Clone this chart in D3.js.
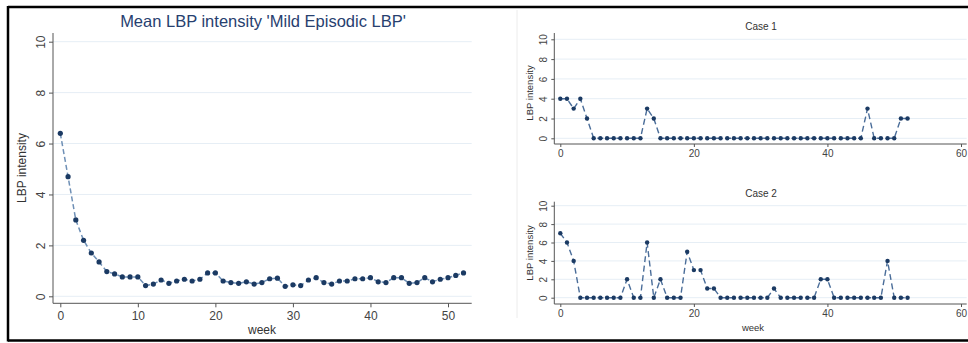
<!DOCTYPE html>
<html>
<head>
<meta charset="utf-8">
<script src="https://cdn.jsdelivr.net/npm/d3@7"></script>
<style>
  html, body { margin: 0; padding: 0; background: #fff; }
  svg { display: block; font-family: "Liberation Sans", Arial, sans-serif; }
</style>
</head>
<body>
<svg id="chart" width="968" height="343"></svg>
<script>
// ---- data ----
const meanTitle = "Mean LBP intensity 'Mild Episodic LBP'";
const case1Title = "Case 1";
const case2Title = "Case 2";
const yTitle = "LBP intensity";
const xTitle = "week";

const meanIntensity = [6.4, 4.7, 3.0, 2.2, 1.7, 1.35, 0.97, 0.88, 0.76, 0.76,
  0.76, 0.42, 0.48, 0.64, 0.51, 0.60, 0.67, 0.60, 0.67, 0.92,
  0.92, 0.60, 0.54, 0.51, 0.57, 0.48, 0.54, 0.69, 0.71, 0.39,
  0.45, 0.42, 0.64, 0.73, 0.54, 0.48, 0.60, 0.60, 0.69, 0.69,
  0.73, 0.57, 0.54, 0.73, 0.73, 0.51, 0.54, 0.73, 0.57, 0.67,
  0.73, 0.82, 0.92];

const case1 = [4, 4, 3, 4, 2, 0, 0, 0, 0, 0,
  0, 0, 0, 3, 2, 0, 0, 0, 0, 0,
  0, 0, 0, 0, 0, 0, 0, 0, 0, 0,
  0, 0, 0, 0, 0, 0, 0, 0, 0, 0,
  0, 0, 0, 0, 0, 0, 3, 0, 0, 0,
  0, 2, 2];

const case2 = [7, 6, 4, 0, 0, 0, 0, 0, 0, 0,
  2, 0, 0, 6, 0, 2, 0, 0, 0, 5,
  3, 3, 1, 1, 0, 0, 0, 0, 0, 0,
  0, 0, 1, 0, 0, 0, 0, 0, 0, 2,
  2, 0, 0, 0, 0, 0, 0, 0, 0, 4,
  0, 0, 0];

const yTicks = [0, 2, 4, 6, 8, 10];
const xTicksMain = [0, 10, 20, 30, 40, 50];
const xTicksCase = [0, 20, 40, 60];

// ---- drawing ----
const svg = d3.select("#chart");

// frame
svg.append("line").attr("x1", 8).attr("x2", 968).attr("y1", 7).attr("y2", 7)
  .attr("stroke", "#000").attr("stroke-width", 2.5);
svg.append("line").attr("x1", 8).attr("x2", 8).attr("y1", 6).attr("y2", 341.5)
  .attr("stroke", "#000").attr("stroke-width", 2.5);
svg.append("line").attr("x1", 8).attr("x2", 968).attr("y1", 340.5).attr("y2", 340.5)
  .attr("stroke", "#000").attr("stroke-width", 2.5);
svg.append("line").attr("x1", 517).attr("x2", 517).attr("y1", 10).attr("y2", 318)
  .attr("stroke", "#ececec").attr("stroke-width", 1);

function panel(cfg) {
  const g = svg.append("g");
  const x = d3.scaleLinear().domain(cfg.xDomain).range(cfg.xRange);
  const y = d3.scaleLinear().domain([0, 10]).range(cfg.yRange);

  // grid
  g.append("g").selectAll("line").data(yTicks).join("line")
    .attr("x1", cfg.axisX).attr("x2", cfg.plotRight)
    .attr("y1", d => y(d)).attr("y2", d => y(d))
    .attr("stroke", "#e6eef5").attr("stroke-width", 1);

  // y axis
  const ya = g.append("g").attr("transform", `translate(${cfg.axisX},0)`)
    .call(d3.axisLeft(y).tickValues(yTicks).tickSize(cfg.tick).tickPadding(2).tickFormat(d3.format("d")));
  ya.select(".domain").attr("d", `M0,${cfg.axisTop}V${cfg.axisY}`).attr("stroke", "#555");
  ya.selectAll(".tick line").attr("stroke", "#555");
  ya.selectAll(".tick text")
    .attr("font-size", cfg.tickFont).attr("fill", "#444")
    .attr("x", null).attr("dy", null)
    .attr("text-anchor", "middle")
    .attr("transform", `translate(${-cfg.tick - cfg.tickFont * 0.45 - 3},0) rotate(-90)`)
    .attr("dy", "0.35em");

  // x axis
  const xa = g.append("g").attr("transform", `translate(0,${cfg.axisY})`)
    .call(d3.axisBottom(x).tickValues(cfg.xTicks).tickSize(cfg.tick).tickPadding(cfg.xPad).tickFormat(d3.format("d")));
  xa.select(".domain").attr("d", `M${cfg.axisX},0H${cfg.plotRight}`).attr("stroke", "#555");
  xa.selectAll(".tick line").attr("stroke", "#555");
  xa.selectAll(".tick text").attr("font-size", cfg.tickFont).attr("fill", "#444");

  // line
  const line = d3.line().x((d, i) => x(i)).y(d => y(d));
  g.append("path").datum(cfg.values)
    .attr("d", line).attr("fill", "none")
    .attr("stroke", cfg.lineColor).attr("stroke-width", cfg.lineWidth)
    .attr("stroke-dasharray", cfg.dash);

  // markers
  g.append("g").selectAll("circle").data(cfg.values).join("circle")
    .attr("cx", (d, i) => x(i)).attr("cy", d => y(d)).attr("r", cfg.r)
    .attr("fill", "#1b3a63");

  // titles
  g.append("text").attr("x", cfg.titleX).attr("y", cfg.titleY)
    .attr("text-anchor", "middle").attr("font-size", cfg.titleFont)
    .attr("fill", cfg.titleColor).text(cfg.title);
  g.append("text")
    .attr("transform", `translate(${cfg.yTitleX},${cfg.yTitleY}) rotate(-90)`)
    .attr("text-anchor", "middle").attr("font-size", cfg.yTitleFont)
    .attr("fill", "#333").text(yTitle);
  if (cfg.showXTitle) {
    g.append("text").attr("x", cfg.xTitleX).attr("y", cfg.xTitleY)
      .attr("text-anchor", "middle").attr("font-size", cfg.xTitleFont)
      .attr("fill", "#333").text(xTitle);
  }
}

// main panel
panel({
  values: meanIntensity, xTicks: xTicksMain,
  xDomain: [0, 50], xRange: [60.3, 448],
  yRange: [296.3, 41.7],
  axisX: 53, axisY: 303.3, axisTop: 33, plotRight: 471.7,
  tick: 4, tickFont: 12, xPad: 4,
  lineColor: "#6f90b6", lineWidth: 1.5, dash: "5,3", r: 2.6,
  title: meanTitle, titleX: 263, titleY: 27, titleFont: 16.5, titleColor: "#27406f",
  yTitleX: 26, yTitleY: 168, yTitleFont: 12,
  showXTitle: true, xTitleX: 262, xTitleY: 334, xTitleFont: 12
});

// case 1
panel({
  values: case1, xTicks: xTicksCase,
  xDomain: [0, 60], xRange: [560.3, 961],
  yRange: [138.3, 39.3],
  axisX: 554.3, axisY: 144, axisTop: 33, plotRight: 966.7,
  tick: 3, tickFont: 10, xPad: 3,
  lineColor: "#4a6d99", lineWidth: 1.4, dash: "6,3.5", r: 2.2,
  title: case1Title, titleX: 761, titleY: 30, titleFont: 10, titleColor: "#333",
  yTitleX: 533, yTitleY: 93, yTitleFont: 9.5,
  showXTitle: false
});

// case 2
panel({
  values: case2, xTicks: xTicksCase,
  xDomain: [0, 60], xRange: [560.3, 961],
  yRange: [297.7, 205.7],
  axisX: 554.3, axisY: 304, axisTop: 201.7, plotRight: 966.7,
  tick: 3, tickFont: 10, xPad: 3,
  lineColor: "#4a6d99", lineWidth: 1.4, dash: "6,3.5", r: 2.2,
  title: case2Title, titleX: 761, titleY: 197, titleFont: 10, titleColor: "#333",
  yTitleX: 533, yTitleY: 253, yTitleFont: 9.5,
  showXTitle: true, xTitleX: 753, xTitleY: 331, xTitleFont: 9.5
});
</script>
</body>
</html>
